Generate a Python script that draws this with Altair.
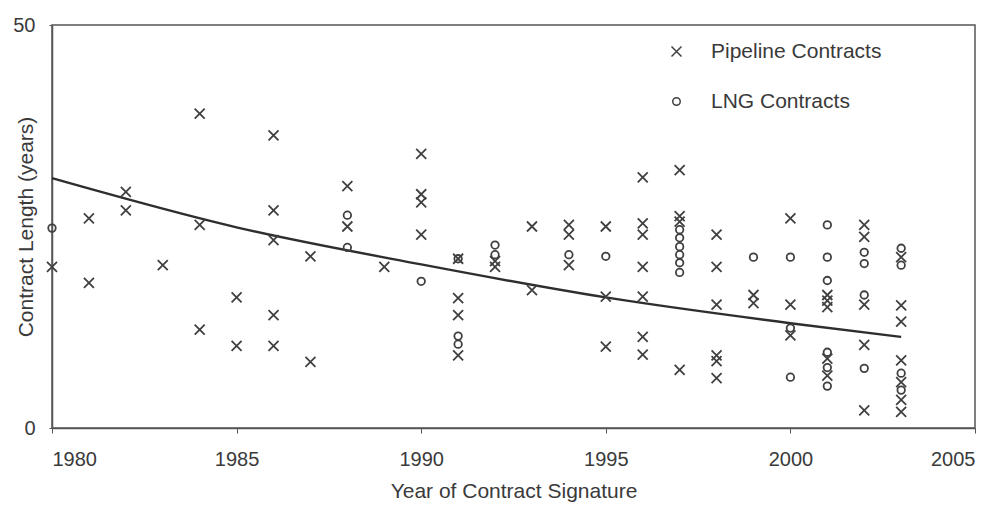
import altair as alt
import pandas as pd

# Pipeline contracts: (year, contract length in years)
pipe_years = [1980, 1981, 1981, 1982, 1982, 1983, 1984, 1984, 1984, 1985, 1985,
              1986, 1986, 1986, 1986, 1986, 1987, 1987, 1988, 1988, 1989,
              1990, 1990, 1990, 1990, 1991, 1991, 1991, 1991, 1992, 1992,
              1993, 1993, 1994, 1994, 1994, 1995, 1995, 1995,
              1996, 1996, 1996, 1996, 1996, 1996, 1996,
              1997, 1997, 1997, 1997,
              1998, 1998, 1998, 1998, 1998, 1998,
              1999, 1999, 2000, 2000, 2000,
              2001, 2001, 2001, 2001, 2001,
              2002, 2002, 2002, 2002, 2002,
              2003, 2003, 2003, 2003, 2003, 2003, 2003]
pipe_length = [20, 26, 18, 29.3, 27, 20.2, 39, 25.2, 12.2, 16.2, 10.2,
               36.3, 27, 23.3, 14, 10.2, 21.3, 8.2, 30, 25, 20,
               34, 29, 28, 24, 21, 16.1, 14, 9, 20.7, 20,
               25, 17.1, 25.2, 24, 20.2, 25, 16.3, 10.1,
               31.1, 25.4, 24, 20, 16.3, 11.3, 9.1,
               32, 26.3, 25.6, 7.2,
               24, 20, 15.3, 9, 8.3, 6.2,
               16.5, 15.5, 26, 15.3, 11.5,
               16.5, 15.8, 15, 8.6, 6.5,
               25.2, 23.7, 15.3, 10.3, 2.2,
               21.2, 15.2, 13.2, 8.4, 5.7, 3.5, 2.0]

# LNG contracts
lng_years = [1980, 1988, 1988, 1990, 1991, 1991, 1991, 1992, 1992, 1994, 1995,
             1997, 1997, 1997, 1997, 1997, 1997, 1999,
             2000, 2000, 2000,
             2001, 2001, 2001, 2001, 2001, 2001,
             2002, 2002, 2002, 2002,
             2003, 2003, 2003, 2003]
lng_length = [24.8, 26.4, 22.4, 18.2, 21, 11.4, 10.4, 22.7, 21.5, 21.5, 21.3,
              24.6, 23.6, 22.5, 21.5, 20.5, 19.3, 21.2,
              21.2, 12.4, 6.3,
              25.2, 21.2, 18.3, 9.4, 7.5, 5.2,
              21.8, 20.4, 16.5, 7.4,
              22.3, 20.2, 6.8, 4.7]

# Trend curve
trend_years = [1980, 1985, 1990, 1995, 2000, 2003]
trend_length = [31, 24.9, 20.3, 16.2, 13.0, 11.3]

x_ticks = [1980, 1985, 1990, 1995, 2000, 2005]
y_ticks = [0, 50]

series = ["Pipeline Contracts", "LNG Contracts"]

pts = pd.DataFrame({
    "year": pipe_years + lng_years,
    "length": pipe_length + lng_length,
    "type": [series[0]] * len(pipe_years) + [series[1]] * len(lng_years),
})
trend = pd.DataFrame({"year": trend_years, "length": trend_length})

FONT = "Liberation Sans"
TXT = "#3a3a3a"
AX = "#555555"

x_enc = alt.X("year:Q",
              scale=alt.Scale(domain=[1980, 2005], nice=False, zero=False),
              axis=alt.Axis(values=x_ticks, format="d", title="Year of Contract Signature",
                            grid=False, tickSize=5, labelPadding=16, titlePadding=11,
                            labelFontSize=20, titleFontSize=21))
y_enc = alt.Y("length:Q",
              scale=alt.Scale(domain=[0, 50], nice=False),
              axis=alt.Axis(values=y_ticks, title="Contract Length (years)",
                            grid=False, tickSize=3, labelPadding=14,
                            labelFontSize=20, titleFontSize=21, titleX=-16))

X_PATH = "M-1,-1L1,1M-1,1L1,-1"
O_PATH = "M0.75,0A0.75,0.75 0 1,1 -0.75,0A0.75,0.75 0 1,1 0.75,0Z"

points = alt.Chart(pts).mark_point(filled=False, size=100, strokeWidth=1.8,
                                   color="#404040", opacity=1).encode(
    x=x_enc,
    y=y_enc,
    shape=alt.Shape("type:N",
                    scale=alt.Scale(domain=series, range=[X_PATH, O_PATH]),
                    legend=alt.Legend(title=None, orient="none", legendX=614, legendY=16,
                                      labelFontSize=21, labelOffset=24, rowPadding=28,
                                      labelLimit=400,
                                      symbolSize=100, symbolStrokeWidth=1.5,
                                      symbolStrokeColor="#404040", padding=0)),
)

line = alt.Chart(trend).mark_line(color="#2e2e2e", strokeWidth=2.4,
                                  interpolate="monotone").encode(
    x=alt.X("year:Q"), y=alt.Y("length:Q"))

chart = alt.layer(line, points).properties(
    width=923, height=403,
    autosize=alt.AutoSizeParams(type="none"),
    padding={"left": 44, "top": 17, "right": 10, "bottom": 85},
    background="white",
).configure_view(
    stroke=AX, strokeWidth=1.5
).configure_axis(
    labelFont=FONT, titleFont=FONT, labelColor=TXT, titleColor=TXT,
    domainColor=AX, tickColor=AX, titleFontWeight="normal", domainWidth=1.5,
).configure_legend(
    labelFont=FONT, labelColor=TXT,
)

chart.save("out.html", embed_options={"renderer": "svg", "actions": False})
